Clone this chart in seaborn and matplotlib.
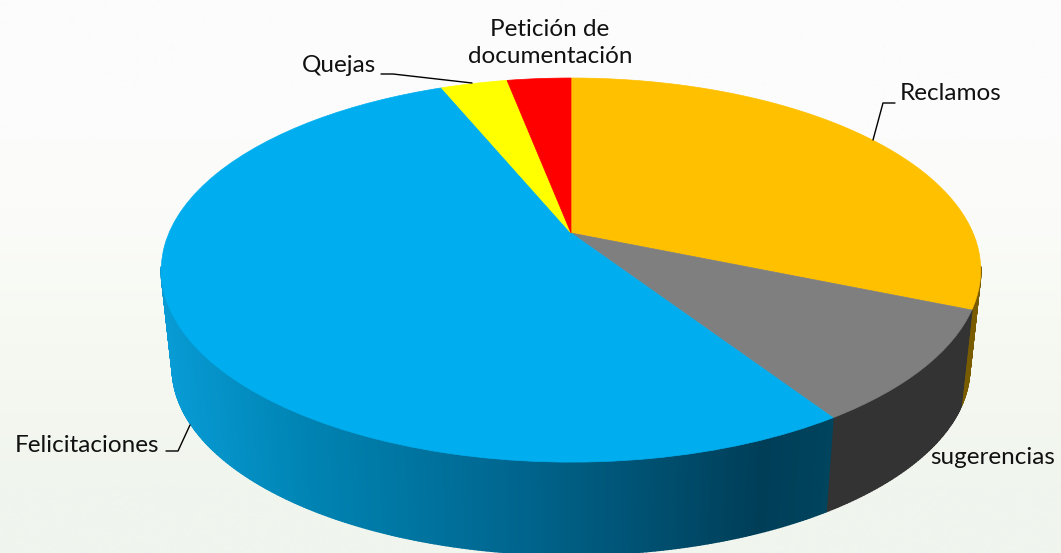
import numpy as np
import seaborn as sns
import matplotlib.pyplot as plt
from matplotlib.collections import PolyCollection
from matplotlib.path import Path
from matplotlib.transforms import Transform

categorias = ["Reclamos", "sugerencias", "Felicitaciones", "Quejas", "Petición de\ndocumentación"]
valores = [31.3, 9.5, 53.0, 3.17, 3.03]
colores = ["#FFC000", "#7F7F7F", "#00AEEF", "#FFFF00", "#FF0000"]
colores_lado = ["#7A5C00", "#333333", "#00AEEF", "#7F7F00", "#7F0000"]

# centro y radio en pixeles, k da la perspectiva del disco
cx, cy, radio = 571, 233, 402
k = 0.193
alto = 184.9
escala_base = 0.973
caida = 99


class Inclinar(Transform):
    input_dims = 2
    output_dims = 2
    is_separable = False
    has_inverse = False

    def transform_non_affine(self, values):
        values = np.asarray(values, dtype=float)
        x = (values[:, 0] - cx) / radio
        y = (values[:, 1] - cy) / radio
        d = 1 + k * y
        return np.column_stack([cx + radio * x / d, cy - alto * y / d])

    def transform_path_non_affine(self, path):
        # las curvas se aplanan antes, la perspectiva no conserva los bezier
        poly = path.to_polygons()[0]
        return Path(self.transform_non_affine(poly), closed=True)


def borde(theta):
    t = np.radians(theta)
    return Inclinar().transform_non_affine(
        np.column_stack([cx + radio * np.cos(t), cy + radio * np.sin(t)]))


def color_felicitaciones(x):
    xs = [165, 300, 530, 760, 830]
    r = np.interp(x, xs, [8, 0, 0, 0, 0])
    g = np.interp(x, xs, [156, 133, 100, 62, 68])
    b = np.interp(x, xs, [214, 181, 140, 88, 93])
    return (r / 255, g / 255, b / 255)


sns.set_theme(style="white")
plt.rcParams["font.family"] = ["Lato", "DejaVu Sans"]

fig = plt.figure(figsize=(10.61, 5.53), dpi=100)
ax = fig.add_axes([0, 0, 1, 1])

# fondo muy claro, casi blanco arriba y verdoso abajo
fondo = np.array([[252, 252, 252], [251, 252, 250], [246, 249, 241], [240, 245, 238]]) / 255
ax.imshow(fondo[:, None, :], extent=(0, 1061, 553, 0), aspect="auto", interpolation="bilinear", zorder=0)

wedges, _ = ax.pie(valores, colors=colores, startangle=90, counterclock=False,
                   center=(cx, cy), radius=radio, wedgeprops={"linewidth": 0})
for w, c in zip(wedges, colores):
    w.set_transform(Inclinar() + ax.transData)
    w.set_edgecolor(c)
    w.set_linewidth(0.5)
    w.set_zorder(2)

# pared lateral, solo la parte de adelante
caras = []
for i, w in enumerate(wedges):
    angulos = np.linspace(w.theta1, w.theta2, max(int(w.theta2 - w.theta1), 2) * 2 + 1)
    angulos = angulos[np.sin(np.radians(angulos)) < -0.17]
    if len(angulos) < 2:
        continue
    arriba = borde(angulos)
    abajo = np.column_stack([cx + escala_base * (arriba[:, 0] - cx),
                             cy + escala_base * (arriba[:, 1] - cy) + caida])
    for j in range(len(angulos) - 1):
        quad = np.array([arriba[j], arriba[j + 1], abajo[j + 1], abajo[j]])
        xm = quad[:, 0].mean()
        c = color_felicitaciones(xm) if categorias[i] == "Felicitaciones" else colores_lado[i]
        caras.append((quad[:, 1].mean(), quad, c))
caras.sort(key=lambda c: c[0])
ax.add_collection(PolyCollection([c[1] for c in caras], facecolors=[c[2] for c in caras],
                                 edgecolors=[c[2] for c in caras], linewidths=1.2, zorder=1))

ax.set_aspect("auto")
ax.set_xlim(0, 1061)
ax.set_ylim(553, 0)

# etiquetas y lineas guia
fs = 17.5
ax.text(900, 94, categorias[0], fontsize=fs, color="#111111", ha="left", va="center")
ax.text(930, 458, categorias[1], fontsize=fs, color="#111111", ha="left", va="center")
ax.text(15, 445, categorias[2], fontsize=fs, color="#111111", ha="left", va="center")
ax.text(302, 66, categorias[3], fontsize=fs, color="#111111", ha="left", va="center")
ax.text(550, 43, categorias[4], fontsize=fs, color="#111111", ha="center", va="center", linespacing=1.4)

ax.plot([895, 883, 873], [103, 103, 140], color="black", lw=1, zorder=3)
ax.plot([381, 393, 472], [74, 74, 83], color="black", lw=1, zorder=3)
ax.plot([166, 178, 190], [451, 451, 425], color="black", lw=1, zorder=3)

fig.savefig("out.png", dpi=100)
